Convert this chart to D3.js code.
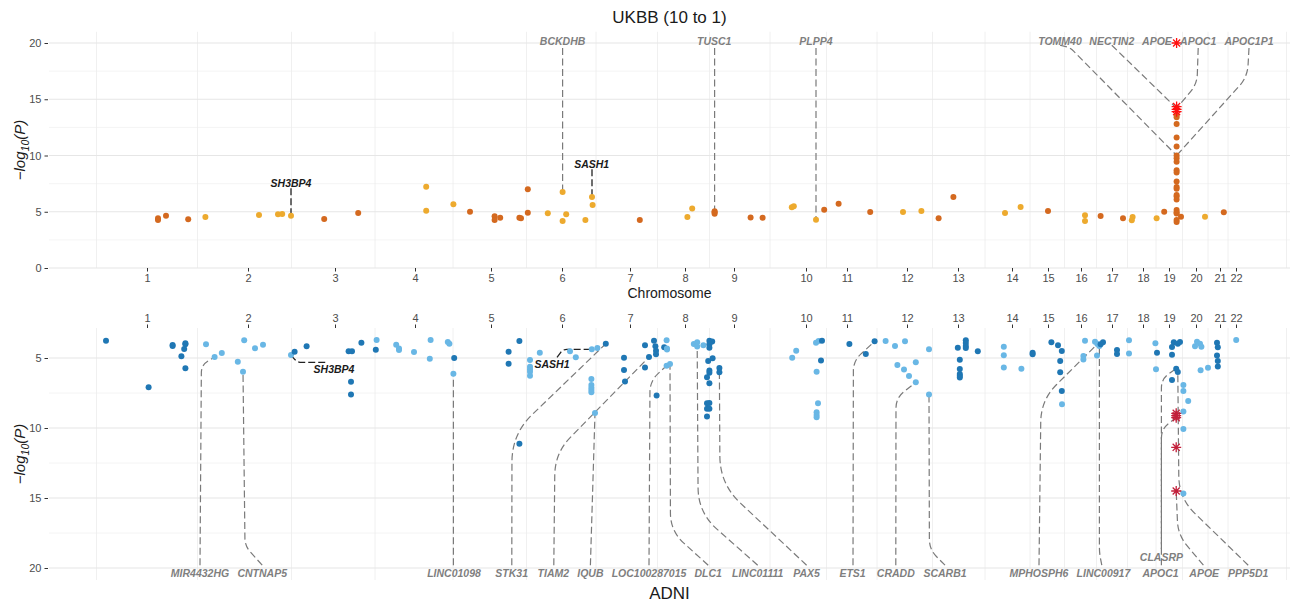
<!DOCTYPE html>
<html>
<head>
<meta charset="utf-8">
<script src="https://cdn.jsdelivr.net/npm/d3@7"></script>
<style>
    body { margin: 0; background: #fff; }
    svg text { font-family: "Liberation Sans", Arial, Helvetica, sans-serif; }
</style>
</head>
<body>
<div id="chart"></div>
<script>
// Miami plot: UKBB (trên) vs ADNI (dưới)
// vị trí = vị trí tích lũy trên bộ gen (đơn vị ~Mb), giá trị = -log10(P)

const chrLabels = d3.range(1, 23).map(String);
const chrCenters = [245, 497.5, 715, 915, 1105, 1282.5, 1452.5, 1590, 1712.5, 1892.5, 1995,
    2145, 2272.5, 2407.5, 2497.5, 2580, 2657.5, 2735, 2800, 2867.5, 2927.5, 2967.5];

// [chr, vị trí, -log10(P)]
const ukbbPoints = [
    [1, 272.5, 4.42], [1, 272.5, 4.27], [1, 292.5, 4.65], [1, 348, 4.33],
    [2, 391, 4.53], [2, 525, 4.71], [2, 572.5, 4.77], [2, 583, 4.8], [2, 605, 4.65],
    [3, 688, 4.36], [3, 773, 4.89],
    [4, 943, 7.23], [4, 943, 5.09], [4, 1011, 5.66],
    [5, 1052.5, 5.0], [5, 1114, 4.6], [5, 1114, 4.27], [5, 1128, 4.47], [5, 1176, 4.47], [5, 1180, 4.42], [5, 1197, 7.0], [5, 1197, 4.92],
    [6, 1247, 4.86], [6, 1284, 6.76], [6, 1284, 4.18], [6, 1293, 4.77], [6, 1341, 4.27], [6, 1357.5, 6.31], [6, 1359, 5.6],
    [7, 1477, 4.27],
    [8, 1596, 4.53], [8, 1608, 5.3],
    [9, 1664, 4.95], [9, 1664, 5.04], [9, 1664, 4.83], [9, 1754, 4.5], [9, 1784, 4.47],
    [10, 1857, 5.4], [10, 1862, 5.48], [10, 1917.5, 4.29],
    [11, 1938, 5.18], [11, 1974, 5.72], [11, 2053, 4.98],
    [12, 2135, 4.98], [12, 2181, 5.07],
    [13, 2224, 4.42], [13, 2261, 6.31],
    [14, 2390, 4.89], [14, 2429, 5.42],
    [15, 2497.5, 5.07],
    [16, 2590, 4.68], [16, 2590, 4.18],
    [17, 2629, 4.62], [17, 2685, 4.42],
    [18, 2709, 4.53], [18, 2707, 4.24], [18, 2769, 4.42],
    [19, 2788, 5.0], [19, 2830, 4.56],
    [19, 2819, 13.6], [19, 2819, 13.4], [19, 2819, 12.8], [19, 2819, 11.6], [19, 2819, 10.8], [19, 2819, 10.0],
    [19, 2819, 9.75], [19, 2819, 9.45], [19, 2819, 8.7], [19, 2819, 8.5], [19, 2819, 7.7], [19, 2819, 7.2],
    [19, 2819, 7.05], [19, 2819, 6.5], [19, 2819, 6.35], [19, 2819, 6.1], [19, 2819, 5.15], [19, 2819, 4.95],
    [19, 2819, 4.85], [19, 2819, 4.27], [19, 2819, 4.1],
    [20, 2890, 4.56],
    [21, 2937, 4.95]
];
const ukbbStars = [[19, 2819, 20.0], [19, 2819, 14.35], [19, 2819, 14.1], [19, 2819, 13.9]];

const adniPoints = [
    [1, 142.5, 3.76], [1, 249, 7.09], [1, 309, 4.08], [1, 309, 4.15], [1, 341, 3.95], [1, 341, 4.02], [1, 338, 4.36], [1, 331, 4.88], [1, 341, 5.74],
    [2, 392.5, 4.02], [2, 414, 4.93], [2, 432, 4.64], [2, 472, 5.26], [2, 485, 5.98], [2, 488, 3.74], [2, 515, 4.31], [2, 535, 4.05], [2, 605, 4.79],
    [3, 614, 4.55], [3, 644, 4.16], [3, 749, 4.52], [3, 757.5, 4.52], [3, 755, 6.69], [3, 755, 7.6], [3, 781, 3.91], [3, 817, 4.41],
    [4, 819, 3.71], [4, 868, 4.05], [4, 875, 4.33], [4, 875, 4.42], [4, 912.5, 4.57], [4, 952, 5.05], [4, 954, 3.71], [4, 997, 3.86], [4, 1001, 3.98], [4, 1011, 6.12],
    [5, 1013, 5.0], [5, 1149, 4.55], [5, 1149, 5.41], [5, 1176, 3.79], [5, 1176, 11.12],
    [6, 1202.5, 5.14], [6, 1202.5, 5.62], [6, 1202.5, 5.81], [6, 1202.5, 5.98], [6, 1202.5, 6.26], [6, 1227, 4.62], [6, 1302.5, 4.52], [6, 1317, 4.95],
    [6, 1357, 4.38], [6, 1371, 4.29], [6, 1356, 6.5], [6, 1356, 6.93], [6, 1356, 7.12], [6, 1356, 7.29], [6, 1356, 7.45], [6, 1365, 8.93],
    [7, 1392, 3.98], [7, 1437.5, 4.98], [7, 1437.5, 5.86], [7, 1440, 6.67], [7, 1490, 4.09], [7, 1490, 5.67], [7, 1500, 4.93], [7, 1512.5, 3.76],
    [7, 1516, 4.16], [7, 1517.5, 4.48], [7, 1517.5, 4.74], [7, 1519, 7.67], [7, 1538, 4.24],
    [8, 1544, 3.74], [8, 1545, 4.33], [8, 1545, 4.4], [8, 1544, 5.55], [8, 1552.5, 5.43], [8, 1612, 4.0], [8, 1620.5, 3.88], [8, 1620.5, 4.17], [8, 1636, 4.09],
    [9, 1651, 3.76], [9, 1658, 3.83], [9, 1651, 4.02], [9, 1651, 4.26], [9, 1648, 5.21], [9, 1659, 5.02], [9, 1651, 5.9], [9, 1651, 6.05], [9, 1645, 6.38],
    [9, 1651, 6.81], [9, 1645, 8.24], [9, 1651, 8.21], [9, 1645, 8.62], [9, 1651, 8.62], [9, 1645, 9.17], [9, 1676, 5.71], [9, 1676, 6.02],
    [10, 1858, 4.98], [10, 1868, 4.48], [10, 1917.5, 3.91], [10, 1924, 3.79], [10, 1919, 5.98], [10, 1922.5, 8.24], [10, 1919, 8.88], [10, 1919, 9.07], [10, 1919, 9.24],
    [11, 1932.5, 3.76], [11, 1930, 5.17], [11, 2001, 4.0], [11, 2042, 4.71], [11, 2064, 3.81],
    [12, 2091.5, 3.79], [12, 2115, 4.14], [12, 2121, 5.5], [12, 2140, 3.81], [12, 2137.5, 5.83], [12, 2150, 6.29], [12, 2167, 5.31], [12, 2167, 6.74], [12, 2200, 4.38], [12, 2200, 7.6],
    [13, 2272, 4.26], [13, 2277, 5.12], [13, 2277, 5.79], [13, 2277, 6.14], [13, 2277, 6.26], [13, 2277, 6.4], [13, 2292, 3.74], [13, 2292, 3.93], [13, 2292, 4.14], [13, 2292, 4.29], [13, 2322, 4.52],
    [14, 2387, 4.19], [14, 2387, 4.81], [14, 2387, 5.67], [14, 2431, 5.76],
    [15, 2459, 4.62], [15, 2459, 4.74], [15, 2506, 3.88], [15, 2522.5, 4.09], [15, 2532, 4.5], [15, 2528, 5.21], [15, 2528, 6.02], [15, 2532, 7.36],
    [16, 2532.5, 8.31], [16, 2590, 3.76], [16, 2586, 4.86], [16, 2586, 5.1], [16, 2615, 3.84], [16, 2621, 4.0], [16, 2626, 4.14], [16, 2620, 4.83],
    [17, 2629, 4.02], [17, 2635, 3.88], [17, 2670, 4.43], [17, 2670, 4.71],
    [18, 2700, 3.74], [18, 2700, 4.67], [18, 2766, 3.95], [18, 2767.5, 5.81],
    [19, 2770, 4.62], [19, 2807.5, 4.76], [19, 2807.5, 4.21], [19, 2812, 3.88], [19, 2822, 3.98], [19, 2827.5, 3.86], [19, 2818, 5.76], [19, 2822, 6.0], [19, 2807.5, 6.57],
    [20, 2836, 6.93], [20, 2836, 7.36], [20, 2836, 8.83], [20, 2836, 10.07], [20, 2836, 14.67], [20, 2848, 8.07], [20, 2865, 4.16], [20, 2870, 3.84],
    [20, 2877.5, 3.98], [20, 2881, 4.19], [20, 2879, 5.88], [20, 2897.5, 5.69],
    [21, 2920, 3.91], [21, 2920, 4.83], [21, 2922, 4.24], [21, 2922, 5.21], [21, 2922, 5.6],
    [22, 2968, 3.71]
];
const adniStars = [[19, 2818, 8.95], [19, 2818, 9.12], [19, 2818, 9.26], [19, 2818, 11.38], [19, 2818, 14.5]];

// Nhãn gen: vị trí chữ + đường nối (nhãn -> điểm gập -> SNP), bo góc r
const ukbbLabels = [
    { gene: "BCKDHB", at: [1284, 20.2], path: [[1284, 19.55], [1284, 6.76]] },
    { gene: "TUSC1", at: [1663, 20.2], path: [[1664, 19.55], [1664, 5.0]] },
    { gene: "PLPP4", at: [1917.5, 20.2], path: [[1917.5, 19.55], [1917.5, 4.29]] },
    { gene: "TOMM40", at: [2527.5, 20.2], path: [[2527.5, 19.8], [2552.5, 19.6], [2819, 10.0]], r: 8 },
    { gene: "NECTIN2", at: [2657, 20.2], path: [[2657, 19.8], [2819, 14.2]] },
    { gene: "APOE", at: [2770, 20.2], path: [] },
    { gene: "APOC1", at: [2873, 20.2], path: [[2873, 19.55], [2870, 16.36], [2819, 14.2]], r: 10 },
    { gene: "APOC1P1", at: [3000, 20.2], path: [[3000, 19.55], [2996, 16.98], [2819, 10.0]], r: 12 }
];
const ukbbKeyLabels = [
    { gene: "SH3BP4", at: [605, 7.58], path: [[605, 7.1], [605, 4.86]] },
    { gene: "SASH1", at: [1356.7, 9.24], path: [[1357.5, 8.77], [1357.5, 6.49]] }
];
const adniLabels = [
    { gene: "MIR4432HG", at: [377.5, 20.33], path: [[377.5, 19.8], [381, 5.5], [414, 4.93]], r: 9 },
    { gene: "CNTNAP5", at: [533, 20.33], path: [[533, 19.8], [490, 18.43], [485, 5.98]], r: 8 },
    { gene: "LINC01098", at: [1012.5, 20.33], path: [[1011, 19.8], [1011, 6.12]] },
    { gene: "STK31", at: [1156.7, 20.33], path: [[1157, 19.8], [1157.5, 10.43], [1392, 3.98]], r: 28 },
    { gene: "TIAM2", at: [1260.8, 20.33], path: [[1262, 19.8], [1265, 11.79], [1500, 4.93]], r: 22 },
    { gene: "IQUB", at: [1353.5, 20.33], path: [[1353.5, 19.8], [1365, 8.93]] },
    { gene: "LOC100287015", at: [1500, 20.33], path: [[1500, 19.8], [1502.5, 6.64], [1544, 5.55]], r: 12 },
    { gene: "DLC1", at: [1648, 20.33], path: [[1648, 19.8], [1553.7, 17.36], [1552.5, 5.43]], r: 18 },
    { gene: "LINC01111", at: [1771.7, 20.33], path: [[1771.7, 19.8], [1623, 16.04], [1620.5, 4.17]], r: 25 },
    { gene: "PAX5", at: [1894, 20.33], path: [[1894, 19.8], [1677.5, 14.0], [1676, 6.02]], r: 28 },
    { gene: "ETS1", at: [2009, 20.33], path: [[2010, 19.8], [2011, 5.21], [2064, 3.81]], r: 10 },
    { gene: "CRADD", at: [2117, 20.33], path: [[2117, 19.8], [2117.5, 7.86], [2167, 6.74]], r: 10 },
    { gene: "SCARB1", at: [2240, 20.33], path: [[2240, 19.8], [2201, 18.67], [2200, 7.6]], r: 10 },
    { gene: "MPHOSPH6", at: [2475, 20.33], path: [[2475, 19.8], [2480, 8.0], [2621, 4.0]], r: 22 },
    { gene: "LINC00917", at: [2636, 20.33], path: [[2632, 19.8], [2626, 18.93], [2626, 4.14]], r: 6 },
    { gene: "CLASRP", at: [2781, 19.19], path: [[2781, 18.65], [2781, 6.5], [2818, 5.76]], r: 10 },
    { gene: "APOC1", at: [2779, 20.33], path: [[2781, 19.8], [2781, 10.07], [2818, 9.26]], r: 10 },
    { gene: "APOE", at: [2888, 20.33], path: [[2886, 19.8], [2822.5, 17.64], [2818, 14.5]], r: 14 },
    { gene: "PPP5D1", at: [2998, 20.33], path: [[2998, 19.8], [2825, 15.0], [2822, 6.0]], r: 22 }
];
const adniKeyLabels = [
    { gene: "SH3BP4", at: [712.5, 5.81], path: [[605, 4.79], [620, 5.31], [697.5, 5.31]], r: 8 },
    { gene: "SASH1", at: [1257.5, 5.41], path: [[1270, 4.95], [1285, 4.38], [1357, 4.38]], r: 4 }
];

const ukbbColors = ["#D4691F", "#EDAA2E"];   // chr lẻ / chẵn
const adniColors = ["#1F77B4", "#69B7E5"];

const width = 1291, height = 601;
const svg = d3.select("#chart").append("svg")
    .attr("width", width)
    .attr("height", height);

const x = d3.scaleLinear().domain([0, 3102.5]).range([49, 1290]);
const yTop = d3.scaleLinear().domain([0, 21]).range([268, 31.75]);
const yBot = d3.scaleLinear().domain([2.857, 20.857]).range([328, 580]);

// minor breaks kiểu ggplot: trung điểm giữa các tâm nhiễm sắc thể
const step = chrCenters[1] - chrCenters[0];
const ext = [chrCenters[0] - step, ...chrCenters, chrCenters[chrCenters.length - 1] + step];
const xMinor = d3.range(ext.length - 1).map(i => (ext[i] + ext[i + 1]) / 2)
    .filter(v => v >= x.domain()[0] && v <= x.domain()[1]);

function drawGrid(g, y, major, minor) {
    const [y0, y1] = y.range();
    g.selectAll(".hminor").data(minor).enter().append("line")
        .attr("x1", x.range()[0]).attr("x2", x.range()[1])
        .attr("y1", d => y(d)).attr("y2", d => y(d))
        .attr("stroke", "#f1f1f1").attr("stroke-width", 0.8);
    g.selectAll(".vminor").data(xMinor).enter().append("line")
        .attr("x1", d => x(d)).attr("x2", d => x(d))
        .attr("y1", y0).attr("y2", y1)
        .attr("stroke", "#ececec").attr("stroke-width", 0.8);
    g.selectAll(".hmajor").data(major).enter().append("line")
        .attr("x1", x.range()[0]).attr("x2", x.range()[1])
        .attr("y1", d => y(d)).attr("y2", d => y(d))
        .attr("stroke", "#e6e6e6").attr("stroke-width", 1.1);
}

function styleAxis(g) {
    g.select(".domain").remove();
    g.selectAll(".tick line").attr("stroke", "#333").attr("stroke-width", 1);
    g.selectAll(".tick text").attr("fill", "#4d4d4d").style("font-size", "11px");
}

function bentPath(pts, y, r) {
    const p = pts.map(([pos, v]) => [x(pos), y(v)]);
    const path = d3.path();
    path.moveTo(p[0][0], p[0][1]);
    if (p.length === 2) {
        path.lineTo(p[1][0], p[1][1]);
        return path.toString();
    }
    const [a, b, c] = p;
    const d1 = Math.hypot(b[0] - a[0], b[1] - a[1]);
    const d2 = Math.hypot(c[0] - b[0], c[1] - b[1]);
    const rr = Math.min(r || 10, d1 / 2, d2 / 2);
    path.lineTo(b[0] - (b[0] - a[0]) / d1 * rr, b[1] - (b[1] - a[1]) / d1 * rr);
    path.quadraticCurveTo(b[0], b[1], b[0] + (c[0] - b[0]) / d2 * rr, b[1] + (c[1] - b[1]) / d2 * rr);
    path.lineTo(c[0], c[1]);
    return path.toString();
}

function starPath(cx, cy, r) {
    const d = r * 0.7071;
    return `M${cx - r},${cy}L${cx + r},${cy}M${cx},${cy - r}L${cx},${cy + r}` +
        `M${cx - d},${cy - d}L${cx + d},${cy + d}M${cx - d},${cy + d}L${cx + d},${cy - d}`;
}

function drawPanel(opts) {
    const { y, points, stars, labels, keyLabels, colors, starColor } = opts;
    const g = svg.append("g");

    // đường nối nhãn
    g.selectAll(".seg").data(labels.filter(d => d.path.length)).enter().append("path")
        .attr("d", d => bentPath(d.path, y, d.r))
        .attr("fill", "none").attr("stroke", "#7a7a7a").attr("stroke-width", 1.2)
        .attr("stroke-dasharray", "7,3.5");
    g.selectAll(".kseg").data(keyLabels).enter().append("path")
        .attr("d", d => bentPath(d.path, y, d.r))
        .attr("fill", "none").attr("stroke", "#222").attr("stroke-width", 1.3)
        .attr("stroke-dasharray", "7,3");

    g.selectAll(".pt").data(points).enter().append("circle")
        .attr("cx", d => x(d[1])).attr("cy", d => y(d[2]))
        .attr("r", 3)
        .attr("fill", d => colors[(d[0] + 1) % 2]);

    g.selectAll(".star").data(stars).enter().append("path")
        .attr("d", d => starPath(x(d[1]), y(d[2]), 5))
        .attr("fill", "none").attr("stroke", starColor).attr("stroke-width", 1.3);

    g.selectAll(".lab").data(labels).enter().append("text")
        .attr("x", d => x(d.at[0])).attr("y", d => y(d.at[1]))
        .attr("text-anchor", "middle").attr("dominant-baseline", "central")
        .attr("fill", "#7f7f7f").style("font-size", "10.5px")
        .style("font-weight", "bold").style("font-style", "italic")
        .text(d => d.gene);
    g.selectAll(".klab").data(keyLabels).enter().append("text")
        .attr("x", d => x(d.at[0])).attr("y", d => y(d.at[1]))
        .attr("text-anchor", "middle").attr("dominant-baseline", "central")
        .attr("fill", "#1a1a1a").style("font-size", "10.5px")
        .style("font-weight", "bold").style("font-style", "italic")
        .text(d => d.gene);
}

function yTitle(cx, cy) {
    const t = svg.append("text")
        .attr("transform", `translate(${cx},${cy}) rotate(-90)`)
        .attr("text-anchor", "middle")
        .attr("fill", "#1a1a1a")
        .style("font-size", "15px").style("font-style", "italic");
    t.append("tspan").text("\u2212log");
    t.append("tspan").attr("dy", 4).style("font-size", "10.5px").text("10");
    t.append("tspan").attr("dy", -4).text("(P)");
}

// lưới nền cho hai panel
drawGrid(svg.append("g"), yTop, [0, 5, 10, 15, 20], [2.5, 7.5, 12.5, 17.5]);
drawGrid(svg.append("g"), yBot, [5, 10, 15, 20], [7.5, 12.5, 17.5]);

const xAxisTop = svg.append("g")
    .attr("transform", `translate(0, ${yTop(0)})`)
    .call(d3.axisBottom(x).tickValues(chrCenters).tickFormat((d, i) => chrLabels[i]).tickSize(3.5).tickPadding(3));
styleAxis(xAxisTop);

const yAxisTop = svg.append("g")
    .attr("transform", `translate(${x.range()[0] - 1}, 0)`)
    .call(d3.axisLeft(yTop).tickValues([0, 5, 10, 15, 20]).tickSize(3.5).tickPadding(3));
styleAxis(yAxisTop);

const xAxisBot = svg.append("g")
    .attr("transform", `translate(0, ${yBot.range()[0]})`)
    .call(d3.axisTop(x).tickValues(chrCenters).tickFormat((d, i) => chrLabels[i]).tickSize(3.5).tickPadding(3));
styleAxis(xAxisBot);

const yAxisBot = svg.append("g")
    .attr("transform", `translate(${x.range()[0] - 1}, 0)`)
    .call(d3.axisLeft(yBot).tickValues([5, 10, 15, 20]).tickSize(3.5).tickPadding(3));
styleAxis(yAxisBot);

drawPanel({ y: yTop, points: ukbbPoints, stars: ukbbStars, labels: ukbbLabels, keyLabels: ukbbKeyLabels,
    colors: ukbbColors, starColor: "#FF1010" });
drawPanel({ y: yBot, points: adniPoints, stars: adniStars, labels: adniLabels, keyLabels: adniKeyLabels,
    colors: adniColors, starColor: "#C21F3A" });

// tiêu đề
svg.append("text").attr("x", 669.5).attr("y", 23)
    .attr("text-anchor", "middle").attr("fill", "#1a1a1a")
    .style("font-size", "17px").text("UKBB (10 to 1)");
svg.append("text").attr("x", 669.5).attr("y", 298)
    .attr("text-anchor", "middle").attr("fill", "#1a1a1a")
    .style("font-size", "14px").text("Chromosome");
svg.append("text").attr("x", 669.5).attr("y", 593)
    .attr("text-anchor", "middle").attr("dominant-baseline", "central").attr("fill", "#1a1a1a")
    .style("font-size", "17px").text("ADNI");
yTitle(25, 150);
yTitle(25, 454);
</script>
</body>
</html>
